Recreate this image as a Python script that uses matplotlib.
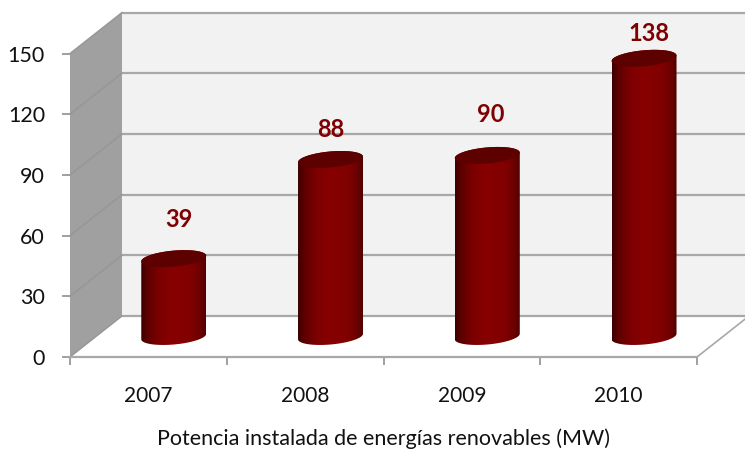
import numpy as np
import matplotlib
matplotlib.use("Agg")
import matplotlib.pyplot as plt
from matplotlib.colors import LinearSegmentedColormap
from matplotlib.patches import Polygon

plt.rcParams['font.family'] = ['Lato', 'DejaVu Sans']

# Datos del grafico
years = ["2007", "2008", "2009", "2010"]
power_mw = [39, 88, 90, 138]
y_ticks = [0, 30, 60, 90, 120, 150]
x_title = "Potencia instalada de energías renovables (MW)"

# Separacion de las etiquetas respecto a la tapa del cilindro (px)
label_shift_x = [5, 0, 3, 5]
label_shift_y = [39, 30, 41, 25]

GRID = "#a8a8a8"
LABEL_RED = "#7f0000"

W, H = 745, 453
fig = plt.figure(figsize=(W / 100, H / 100), dpi=100, facecolor="white")
# Plano frontal de la caja 3D
ax = fig.add_axes([70 / W, (H - 357) / H, 627 / W, 303.5 / H])

px_x = 627 / len(years)       # pixeles por categoria
px_y = 303.5 / max(y_ticks)   # pixeles por MW
depth_x = 52 / px_x           # profundidad de la caja en unidades de datos
depth_y = 41 / px_y

# Paredes y suelo
right = len(years)
top = max(y_ticks)
ax.add_patch(Polygon([(0, 0), (0, top), (depth_x, top + depth_y), (depth_x, depth_y)],
                     closed=True, fc="#a0a0a0", ec="none", clip_on=False, zorder=1))
ax.add_patch(Polygon([(depth_x, depth_y), (depth_x, top + depth_y),
                      (right + depth_x, top + depth_y), (right + depth_x, depth_y)],
                     closed=True, fc="#f2f2f2", ec="none", clip_on=False, zorder=1))

# Rejilla: linea en la pared del fondo y diagonal en la pared lateral
for v in y_ticks:
    ax.plot([depth_x, right + depth_x], [v + depth_y, v + depth_y], color=GRID, lw=1.6,
            clip_on=False, zorder=2, solid_capstyle="butt")
    ax.plot([0, depth_x], [v, v + depth_y], color="#969696", lw=1.0, clip_on=False, zorder=2)
ax.plot([0, right], [0, 0], color=GRID, lw=1.6, clip_on=False, zorder=2)
ax.plot([right, right + depth_x], [0, depth_y], color=GRID, lw=1.2, clip_on=False, zorder=2)

# Cilindros
body_cmap = LinearSegmentedColormap.from_list(
    "cilindro", [(0, "#3c0000"), (0.1, "#5e0000"), (0.28, "#7c0000"), (0.48, "#880000"),
                 (0.78, "#800000"), (0.92, "#6a0000"), (1, "#500000")])
gradient = np.linspace(0, 1, 256).reshape(1, -1)
radius_x = 32.5
radius_y = 8.0
tilt = 0.085


def ellipse(cx, cy, t):
    """Puntos de la elipse inclinada, con radios en pixeles, en unidades de datos."""
    xs = cx + radius_x * np.cos(t) / px_x
    ys = cy + (radius_y * np.sin(t) + tilt * radius_x * np.cos(t)) / px_y
    return np.column_stack([xs, ys])


for i, value in enumerate(power_mw):
    cx = i + 0.5 + depth_x / 2 - 0.6 / px_x
    base = depth_y / 2
    tip = value + depth_y / 2 - 0.5
    lower = ellipse(cx, base, np.linspace(np.pi, 2 * np.pi, 60))
    upper = ellipse(cx, tip, np.linspace(0, np.pi, 60))
    outline = Polygon(np.vstack([lower, upper]), closed=True, transform=ax.transData,
                      fc="none", ec="none")
    ax.add_patch(outline)
    im = ax.imshow(gradient, cmap=body_cmap, aspect="auto", zorder=4,
                   extent=[cx - radius_x / px_x, cx + radius_x / px_x, base - 12, tip + 12])
    im.set_clip_box(fig.bbox)
    im.set_clip_path(outline)
    ax.add_patch(Polygon(ellipse(cx, tip, np.linspace(0, 2 * np.pi, 120)), closed=True,
                         fc="#5c0000", ec="none", clip_on=False, zorder=5))
    ax.text(cx + label_shift_x[i] / px_x, tip + label_shift_y[i] / px_y, str(value),
            color=LABEL_RED, fontsize=17, fontweight="bold", ha="center", va="center",
            zorder=6)

# Ejes
ax.set_xlim(0, right)
ax.set_ylim(0, top)
ax.patch.set_visible(False)
for spine in ax.spines.values():
    spine.set_visible(False)
ax.set_yticks(y_ticks)
ax.set_xticks(range(len(years) + 1))
ax.set_xticklabels([])
ax.set_xticks(np.arange(len(years)) + 0.5, minor=True)
ax.set_xticklabels(years, minor=True)
ax.tick_params(axis="both", which="major", color="#868686", length=6, width=1.1)
ax.tick_params(axis="y", labelsize=15.5, pad=12, labelcolor="#111111")
ax.tick_params(axis="x", which="minor", length=0, pad=21, labelsize=15, labelcolor="#111111")
ax.set_xlabel(x_title, fontsize=15.5, labelpad=16, color="#111111")

fig.savefig("out.png", dpi=100, facecolor="white")
